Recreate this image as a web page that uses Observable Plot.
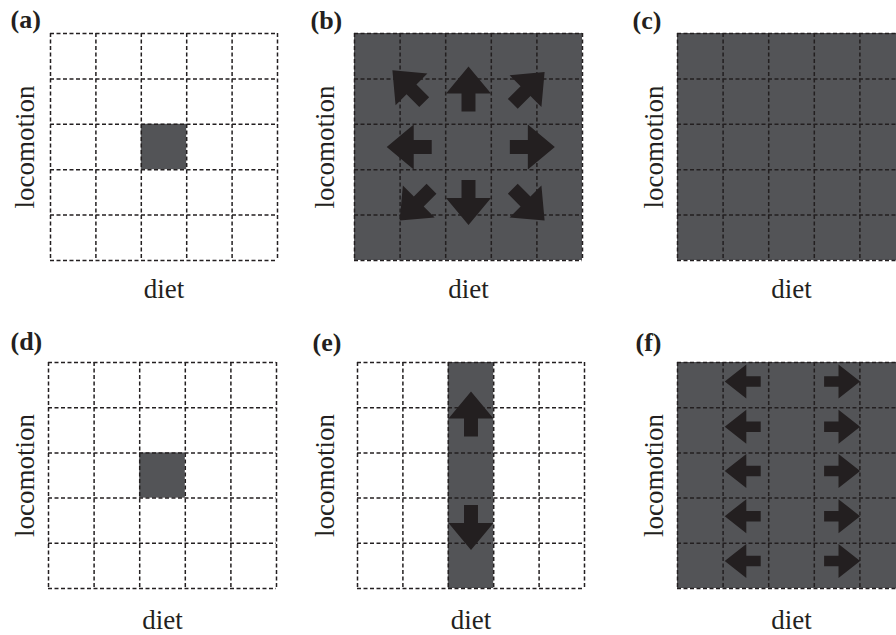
<!DOCTYPE html>
<html>
<head>
<meta charset="utf-8">
<script src="https://cdn.jsdelivr.net/npm/d3@7"></script>
<script src="https://cdn.jsdelivr.net/npm/@observablehq/plot@0.6"></script>
<style>
  html, body { margin: 0; padding: 0; background: #fff; overflow: hidden; }
  #chart { position: relative; width: 896px; height: 635px; overflow: hidden; background: #fff; }
  #chart svg { position: absolute; overflow: visible; }
</style>
</head>
<body>
<div id="chart"></div>
<script>
// ---------- data ----------
const panelLetters = ["(a)", "(b)", "(c)", "(d)", "(e)", "(f)"];
const xLabel = "diet";
const yLabel = "locomotion";
const gridTicks = [0, 1, 2, 3, 4, 5];

// occupied niche region (cell units: diet x1..x2, locomotion y1..y2, from top)
const fillA = [{x1: 2, x2: 3, y1: 2, y2: 3}];
const fillB = [{x1: 0, x2: 5, y1: 0, y2: 5}];
const fillC = [{x1: 0, x2: 5, y1: 0, y2: 5}];
const fillD = [{x1: 2, x2: 3, y1: 2, y2: 3}];
const fillE = [{x1: 2, x2: 3, y1: 0, y2: 5}];
const fillF = [{x1: 0, x2: 5, y1: 0, y2: 5}];

// arrows (centre in cell units, direction in degrees clockwise from up)
const arrowsA = [];
const arrowsB = [
  {x: 1.18, y: 1.16, angle: 315},
  {x: 2.50, y: 1.22, angle: 0},
  {x: 3.82, y: 1.20, angle: 45},
  {x: 1.20, y: 2.50, angle: 270},
  {x: 3.90, y: 2.50, angle: 90},
  {x: 1.34, y: 3.77, angle: 225},
  {x: 2.50, y: 3.72, angle: 180},
  {x: 3.82, y: 3.77, angle: 135}
];
const arrowsC = [];
const arrowsD = [];
const arrowsE = [
  {x: 2.5, y: 1.14, angle: 0},
  {x: 2.5, y: 3.65, angle: 180}
];
const arrowsF = [
  {x: 1.43, y: 0.42, angle: 270}, {x: 3.61, y: 0.42, angle: 90},
  {x: 1.43, y: 1.42, angle: 270}, {x: 3.61, y: 1.42, angle: 90},
  {x: 1.43, y: 2.40, angle: 270}, {x: 3.61, y: 2.40, angle: 90},
  {x: 1.43, y: 3.40, angle: 270}, {x: 3.61, y: 3.40, angle: 90},
  {x: 1.43, y: 4.39, angle: 270}, {x: 3.61, y: 4.39, angle: 90}
];

const fills = [fillA, fillB, fillC, fillD, fillE, fillF];
const arrows = [arrowsA, arrowsB, arrowsC, arrowsD, arrowsE, arrowsF];

// ---------- layout / style ----------
const layout = [
  {left: 50,  top: 33,  w: 227, h: 227, locoDx: -17, letterDx: -40, letterDy: -6,  labelDy: 37, len: 45, r: 22.5},
  {left: 354, top: 33,  w: 228, h: 227, locoDx: -21, letterDx: -44, letterDy: -5,  labelDy: 37, len: 45, r: 22.5},
  {left: 677, top: 33,  w: 228, h: 227, locoDx: -15, letterDx: -45, letterDy: -5,  labelDy: 37, len: 45, r: 22.5},
  {left: 48,  top: 362, w: 228, h: 226, locoDx: -15, letterDx: -38, letterDy: -13, labelDy: 40, len: 45, r: 22.5},
  {left: 357, top: 362, w: 227, h: 226, locoDx: -24, letterDx: -45, letterDy: -12, labelDy: 40, len: 45, r: 22.5},
  {left: 677, top: 362, w: 228, h: 226, locoDx: -15, letterDx: -42, letterDy: -12, labelDy: 40, len: 36, r: 17}
];
const GRAY = "#535457";
const INK = "#231f20";
const FONT = "'Liberation Serif', 'Times New Roman', serif";

const blockArrow = {
  draw(ctx, l, r) {
    const hl = 0.6 * l, sw = 0.31 * r;
    ctx.moveTo(0, -l);
    ctx.lineTo(r, -l + hl);
    ctx.lineTo(sw, -l + hl);
    ctx.lineTo(sw, 0);
    ctx.lineTo(-sw, 0);
    ctx.lineTo(-sw, -l + hl);
    ctx.lineTo(-r, -l + hl);
    ctx.closePath();
  }
};

const container = document.getElementById("chart");
const ML = 60, MT = 45, MR = 30, MB = 55;
const dash = {stroke: INK, strokeWidth: 1.5, strokeDasharray: "4,2.5"};

layout.forEach((L, i) => {
  const svg = Plot.plot({
    width: ML + L.w + MR,
    height: MT + L.h + MB,
    marginLeft: ML, marginTop: MT, marginRight: MR, marginBottom: MB,
    x: {domain: [0, 5], axis: null},
    y: {domain: [0, 5], reverse: true, axis: null},
    style: {fontFamily: FONT, background: "transparent", color: INK},
    marks: [
      Plot.rect(fills[i], {x1: "x1", x2: "x2", y1: "y1", y2: "y2", fill: GRAY}),
      Plot.ruleX(gridTicks, dash),
      Plot.ruleY(gridTicks, dash),
      Plot.vector(arrows[i], {
        x: "x", y: "y", rotate: "angle", length: L.len, r: L.r,
        anchor: "middle", shape: blockArrow, fill: INK, stroke: "none"
      }),
      Plot.text([xLabel], {text: d => d, frameAnchor: "bottom", dy: L.labelDy, textAnchor: "middle", lineAnchor: "bottom", fontSize: 27, fill: INK}),
      Plot.text([yLabel], {text: d => d, frameAnchor: "left", dx: L.locoDx, rotate: -90, textAnchor: "middle", lineAnchor: "bottom", fontSize: 27, fill: INK}),
      Plot.text([panelLetters[i]], {text: d => d, frameAnchor: "top-left", dx: L.letterDx, dy: L.letterDy, textAnchor: "start", lineAnchor: "bottom", fontSize: 26, fontWeight: "bold", fill: INK})
    ]
  });
  svg.style.left = (L.left - ML) + "px";
  svg.style.top = (L.top - MT) + "px";
  container.appendChild(svg);
});
</script>
</body>
</html>
